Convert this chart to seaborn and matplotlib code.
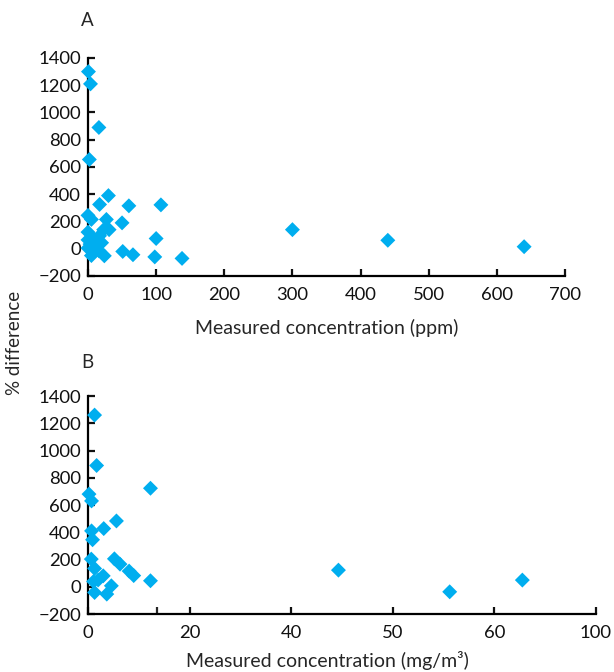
import pandas as pd
import matplotlib
matplotlib.use("Agg")
import matplotlib.pyplot as plt
import seaborn as sns

# Panel A: concentration in ppm vs % difference
ppm_conc = [0.7, 3.7, 16, 2, 30, 17, 60, 107, 0, 5, 27, 50, 23, 31, 0, 100, 0, 0,
            51, 66, 24, 98, 138, 5, 300, 440, 640, 9, 17, 20, 12, 3, 7, 16]
ppm_diff = [1300, 1210, 890, 655, 390, 325, 315, 322, 245, 215, 215, 190, 140, 140,
            122, 75, 65, 5, -20, -44, -52, -60, -71, -50, 140, 62, 15, 68, 95, 44,
            22, 34, 5, -15]

# Panel B: concentration in mg/m3 vs % difference
mg_conc = [1.3, 1.7, 12.3, 0.2, 0.7, 5.6, 3.1, 0.7, 0.9, 0.65, 5.2, 6.3, 1.3, 8.1,
           9, 3, 2, 1.1, 12.3, 4.6, 1.3, 3.7, 49.3, 71.2, 85.5]
mg_diff = [1260, 890, 723, 680, 630, 483, 427, 410, 345, 203, 205, 166, 134, 115,
           82, 80, 50, 39, 44, 7, -42, -54, 122, -37, 49]

ppm_ticks = [0, 100, 200, 300, 400, 500, 600, 700]
mg_ticks = [0, 20, 40, 60, 80, 100]
mg_tick_labels = ["0", "20", "40", "50", "60", "100"]
y_ticks = [-200, 0, 200, 400, 600, 800, 1000, 1200, 1400]

df_a = pd.DataFrame({"conc": ppm_conc, "diff": ppm_diff})
df_b = pd.DataFrame({"conc": mg_conc, "diff": mg_diff})

sns.set_style("ticks")
plt.rcParams["font.family"] = ["Lato", "DejaVu Sans"]
plt.rcParams["font.size"] = 13

color = "#00aeef"
fig = plt.figure(figsize=(6.14, 6.72), dpi=100)
ax_a = fig.add_axes([0.1433, 0.5893, 0.7769, 0.3244])
ax_b = fig.add_axes([0.1433, 0.0863, 0.8274, 0.3244])

for ax, df in [(ax_a, df_a), (ax_b, df_b)]:
    sns.scatterplot(data=df, x="conc", y="diff", ax=ax, marker="D", s=58,
                    color=color, edgecolor="none", clip_on=False, zorder=3)
    ax.set_ylim(-200, 1400)
    ax.set_yticks(y_ticks)
    ax.set_ylabel("")
    sns.despine(ax=ax)
    for side in ["left", "bottom"]:
        ax.spines[side].set_linewidth(1.6)
        ax.spines[side].set_color("black")
    ax.tick_params(direction="in", length=5, width=1.6, labelsize=13.3, colors="#111111")
    ax.tick_params(axis="y", pad=5)
    ax.tick_params(axis="x", pad=8)

ax_a.set_xlim(0, 700)
ax_a.set_xticks(ppm_ticks)
ax_a.set_xlabel("Measured concentration (ppm)", fontsize=14)
ax_a.xaxis.set_label_coords(0.5, -0.195)

ax_b.set_xlim(0, 100)
ax_b.set_xticks(mg_ticks)
ax_b.set_xticklabels(mg_tick_labels)
ax_b.set_xticks([13.6], minor=True)
ax_b.tick_params(axis="x", which="minor", direction="in", length=5, width=1.6)
ax_b.set_xlabel("Measured concentration (mg/m³)", fontsize=14)
ax_b.xaxis.set_label_coords(0.472, -0.168)

fig.text(0.143, 0.97, "A", fontsize=13.5, ha="center", va="center")
fig.text(0.143, 0.46, "B", fontsize=13.5, ha="center", va="center")
fig.text(0.024, 0.49, "% difference", fontsize=13.5, rotation=90, ha="center", va="center")

fig.savefig("out.png", dpi=100)
